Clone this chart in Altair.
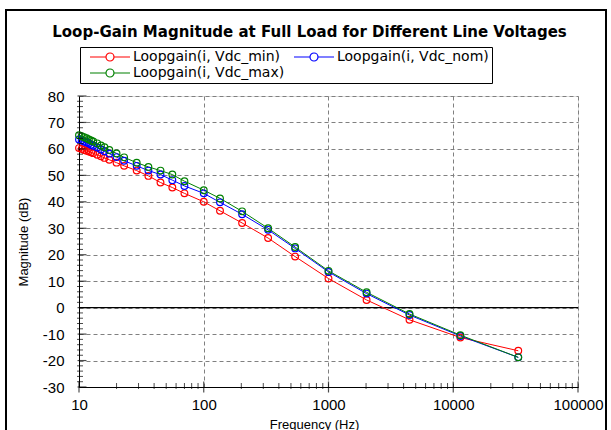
import altair as alt
import pandas as pd

freq = [10, 10.5, 11, 11.5, 12, 12.5, 13, 14, 15, 16, 17.5, 20, 23, 29, 36, 45, 56, 70,
        100, 135, 203, 328, 540, 1000, 2020, 4460, 11400, 33200]
vdc_min = [60.3, 60.0, 59.6, 59.3, 59.0, 58.7, 58.4, 57.8, 57.2, 56.6, 55.9, 54.8, 53.6, 51.8,
           49.8, 47.3, 45.4, 43.2, 40.0, 36.6, 32.0, 26.3, 19.3, 11.0, 2.9, -4.6, -11.3, -16.3]
vdc_nom = [63.6, 63.2, 62.8, 62.4, 62.0, 61.6, 61.2, 60.5, 59.8, 59.1, 58.2, 56.9, 55.5, 53.6,
           51.8, 50.3, 48.2, 46.0, 43.2, 39.8, 35.3, 29.4, 22.4, 13.5, 5.3, -2.8, -10.7, -18.8]
vdc_max = [65.2, 64.8, 64.4, 64.0, 63.6, 63.2, 62.8, 62.1, 61.3, 60.6, 59.6, 58.3, 56.8, 54.8,
           53.2, 51.8, 50.3, 47.8, 44.4, 41.3, 36.4, 30.0, 22.9, 13.9, 5.8, -2.4, -10.4, -18.8]
series_names = ["Loopgain(i, Vdc_min)", "Loopgain(i, Vdc_max)", "Loopgain(i, Vdc_nom)"]
series_colors = ["#ff0000", "#008000", "#0000ff"]

x_major = [10, 100, 1000, 10000, 100000]
x_minor = [m * d for d in [10, 100, 1000, 10000] for m in range(2, 10)]
y_major = list(range(-30, 81, 10))
y_minor = [v for v in range(-30, 81, 2) if v % 10 != 0]

rows = []
for name, vals in zip(["Loopgain(i, Vdc_min)", "Loopgain(i, Vdc_nom)", "Loopgain(i, Vdc_max)"],
                      [vdc_min, vdc_nom, vdc_max]):
    for f, v in zip(freq, vals):
        rows.append({"freq": f, "mag": v, "series": name})
df = pd.DataFrame(rows)

W, H = 499, 291
FONT = "Liberation Sans"
LFONT = "DejaVu Sans"

xscale = alt.Scale(type="log", domain=[10, 100000], nice=False)
yscale = alt.Scale(domain=[-30, 80], nice=False)

x_axis = alt.Axis(values=x_major, format="d", title="Frequency (Hz)",
                  titleX=235, titleY=31, titleBaseline="top", labelOverlap=False,
                  labelPadding=10)
y_axis = alt.Axis(values=y_major, format="d", title="Magnitude (dB)", titlePadding=12,
                  labelOverlap=False, labelPadding=15, labelExpr="'' + datum.value")

# symbol path in units of r (= 4 px): line 0..10, open circle at 5 with radius 1
legend_sym = "M0,0H4M6,0H10M4,0A1,1 0 1,1 6,0A1,1 0 1,1 4,0"

lines = alt.Chart(df).mark_line(
    strokeWidth=1,
    point=alt.OverlayMarkDef(filled=False, size=45, strokeWidth=1.2),
).encode(
    x=alt.X("freq:Q", scale=xscale, axis=x_axis),
    y=alt.Y("mag:Q", scale=yscale, axis=y_axis),
    color=alt.Color("series:N",
                    scale=alt.Scale(domain=series_names, range=series_colors),
                    legend=alt.Legend(title=None, orient="none", legendX=1, legendY=-49,
                                      columns=2, columnPadding=2, rowPadding=2,
                                      symbolType=legend_sym, symbolSize=64,
                                      symbolStrokeWidth=1.2, symbolFillColor="transparent",
                                      labelFont=LFONT, labelFontSize=14, labelColor="black",
                                      labelOffset=36, strokeColor="black", padding=3,
                                      labelLimit=300)),
    detail="series:N",
)

zero_df = pd.DataFrame({"y": [0]})
zero = alt.Chart(zero_df).mark_rule(color="black", strokeWidth=1.2).encode(
    y=alt.Y("y:Q", scale=yscale, axis=y_axis))

ytk_major = alt.Chart(pd.DataFrame({"y": y_major})).mark_tick(
    color="black", size=9, thickness=1.2).encode(
    y=alt.Y("y:Q", scale=yscale, axis=y_axis), x=alt.value(3))
ytk_minor = alt.Chart(pd.DataFrame({"y": y_minor})).mark_tick(
    color="black", size=6, thickness=1).encode(
    y=alt.Y("y:Q", scale=yscale, axis=y_axis), x=alt.value(1))
xtk_major = alt.Chart(pd.DataFrame({"x": x_major})).mark_tick(
    color="black", size=11, thickness=1.2).encode(
    x=alt.X("x:Q", scale=xscale, axis=x_axis), y=alt.value(H))
xtk_minor = alt.Chart(pd.DataFrame({"x": x_minor})).mark_tick(
    color="black", size=6, thickness=1).encode(
    x=alt.X("x:Q", scale=xscale, axis=x_axis), y=alt.value(H - 1))

frame = alt.Chart(zero_df).mark_rect(fill=None, stroke="black", strokeWidth=2).encode(
    x=alt.value(-73), x2=alt.value(527), y=alt.value(-86), y2=alt.value(400))

chart = alt.layer(frame, zero, lines, ytk_minor, ytk_major, xtk_minor, xtk_major).properties(
    width=W, height=H,
    title=alt.TitleParams("Loop-Gain Magnitude at Full Load for Different Line Voltages",
                          font=LFONT, fontSize=15, fontWeight="bold", color="black",
                          anchor="middle", dx=-19, offset=-31),
    autosize=alt.AutoSizeParams(type="none"),
    padding={"left": 79, "top": 96, "right": 33, "bottom": 43},
).configure_view(stroke=None).configure(background="white").configure_axis(
    grid=True, gridDash=[4, 3], gridColor="#808080", ticks=False,
    domainColor="black", labelFontSize=15, labelColor="black", labelFont=FONT,
    labelFlush=False, titleFont=FONT, titleFontWeight="normal",
    titleFontSize=13, titleColor="black",
)

chart.save("out.html", embed_options={"renderer": "svg", "actions": False})
